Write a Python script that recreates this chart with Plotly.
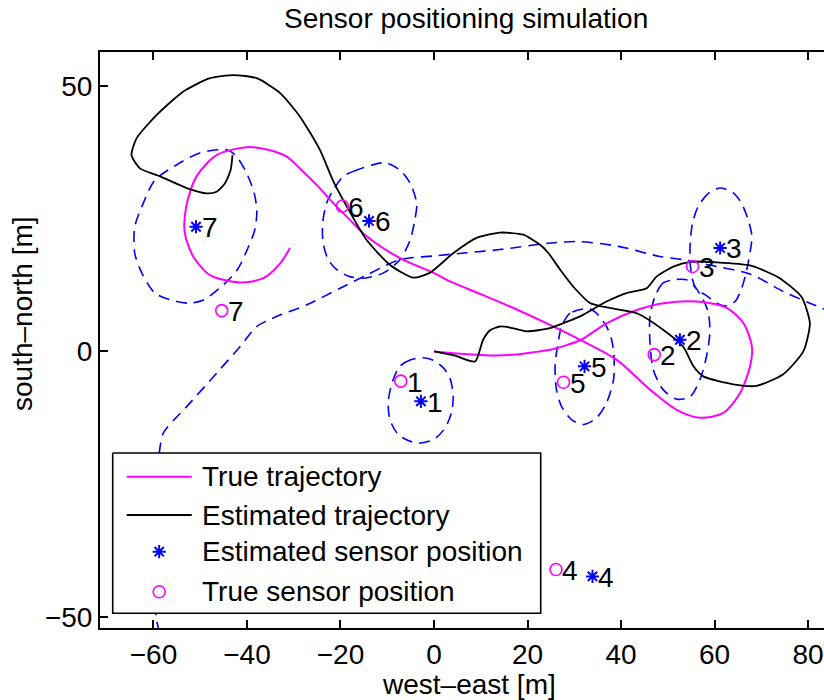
import plotly.graph_objects as go

# ---- trajectories (west-east, south-north in metres) ----
true_x = [0, 5, 12, 17.7, 21, 24.8, 28, 31.5, 36.9, 43.4, 49.1, 56.2, 62.6, 66.2, 68, 67.6,
          65.5, 61.9, 56.9, 51.9, 46.2, 39.1, 31.9, 24.8, 17.7, 10, 3.4, -0.1, -7.3, -14.4,
          -18, -21.5, -25.1, -28.7, -31.5, -35.5, -40.1, -46.5, -50.8, -53, -53.3, -51.5,
          -47.9, -41.5, -36.5, -32.9, -30.8]
true_y = [0, -0.4, -0.75, -0.6, -0.2, 0.3, 1.1, 2.2, 5.3, 7.8, 9.1, 9.4, 8.2, 5.3, 0.9, -2.8,
          -7.8, -11.6, -12.5, -11, -7.2, -1.6, 1.9, 5.0, 7.9, 10.8, 13.2, 14.8, 17.6, 21.7,
          24.8, 27.9, 31.4, 34.5, 36.7, 38, 38.5, 37, 33, 27.3, 22.3, 17.9,
          14.4, 13, 13.8, 16.6, 19.5]

est_x = [0, 4.5, 8.8, 10.5, 12, 14.1, 16.3, 19.8, 24.8, 31.9, 36.9, 41.2, 45.5, 47.6, 51.2,
         54.8, 60.5, 67.6, 73.6, 78.6, 80.4, 79, 74.7, 69, 64, 57.6, 55.5, 53.3, 49, 43.4,
         37.6, 33.4, 30, 27, 24.5, 22.7, 19.1, 14.1, 9.1, 4.1, -0.9, -4.4, -9.4, -14.4,
         -18, -21.5, -24.4, -28.7, -32.9, -37.9, -42.9, -47.9, -53.6, -59.3, -63.6, -64.7,
         -62.9, -58.6, -52.9, -48.6, -46.5, -44.7, -43.5, -43.1]
est_y = [0, -0.8, -1.9, 2.2, 4.0, 4.7, 4.5, 3.8, 4.4, 6.9, 9.4, 11, 11.9, 14.1, 16,
         16.9, 16.8, 16.2, 14.0, 10.3, 5.3, 0.0, -4.3, -6.5, -6.2, -4.7, -2.8, 0.9, 4.1, 7.2,
         8.2, 9.1, 12, 15.4, 18.5, 20.1, 22, 22.4, 21.4, 18.5, 14.8, 13.9, 16.3, 21,
         26.3, 32, 38, 44.3, 48.7, 51.5, 52.1, 51.5, 49, 44.6, 40.2, 37,
         34.5, 33, 30.8, 29.8, 30.1, 31.7, 34.2, 37]

# ---- sensors ----
sensor_ids = ["1", "2", "3", "4", "5", "6", "7"]
sensor_true_x = [-7.1, 47.1, 55.3, 26.1, 27.7, -19.6, -45.4]
sensor_true_y = [-5.6, -0.6, 16.0, -41.1, -5.8, 27.4, 7.7]
sensor_est_x = [-2.8, 52.6, 61.2, 33.9, 32.2, -13.9, -50.9]
sensor_est_y = [-9.4, 2.2, 19.5, -42.4, -2.8, 24.6, 23.5]

# ---- uncertainty contours of the sensor estimates ----
contour_1_x = [-2.3, -5.1, -7.3, -9, -9.8, -9.4, -7.6, -3.7, -0.1, 2.4, 3.8, 4.1, 3.4, 2, -0.1, -2.3]
contour_1_y = [-1.2, -1.6, -2.8, -6, -9.7, -12.9, -15.7, -17.3, -16.6, -14.4, -11.3, -8.2, -5, -3.1, -1.7, -1.2]
contour_2_x = [51.2, 49, 47.3, 46.2, 46.2, 46.9, 49, 51.9, 54.8, 56.9, 58.3, 59, 58.7, 57.6, 55.8, 54, 51.2]
contour_2_y = [13.5, 12.9, 10.4, 6.6, 1.6, -3.4, -7.2, -9, -8.5, -5.3, -0.9, 3.5, 7.2, 9.7, 12.2, 13.5, 13.5]
contour_3_x = [61.2, 58.7, 56.5, 55.3, 54.8, 54.8, 55.3, 56.2, 58, 60.5, 62.6, 64.4, 65.8, 66.9,
               67.7, 68, 67.2, 65.8, 64, 61.2]
contour_3_y = [30.8, 29.8, 27.3, 24.2, 20.4, 16.6, 13.5, 11.6, 10.7, 9.1, 8.6, 9.4, 11.9, 15.4,
               19.2, 21.7, 24.8, 27.9, 29.9, 30.8]
contour_4_x = [-58.7, -59.3, -59.8, -60.2, -60, -58.9, -57.9, -55.5, -52.9, -46.5, -41.5, -37.9,
               -34.4, -27.2, -20.1, -14.4, -7.3, 0, 7, 14.1, 24.5, 31.2, 39.5, 48.3, 53.3, 60.5,
               67.6, 74.7, 80.4, 85]
contour_4_y = [-53, -50.8, -47, -40, -30, -20, -15.4, -12.8, -10.4, -4.1, 0.9, 4.7,
               6.3, 8.8, 11.9, 14.4, 17.3, 18, 18.6, 19.2, 20.4, 20.7, 19.8, 17.9, 17.3, 16,
               14.6, 11.3, 9.1, 7.4]
contour_5_x = [31.9, 29.1, 27.3, 26.4, 25.9, 26.2, 27.3, 29.5, 31.9, 34.8, 36.9, 38.4, 38.5, 38,
               36.9, 35.1, 33.4, 31.9]
contour_5_y = [8, 7.2, 4.7, 0.9, -2.8, -7.2, -10.4, -12.9, -13.8, -12.5, -9.7, -5.3, -0.9, 2.2,
               4.7, 6.9, 8, 8]
contour_6_x = [-11.6, -16.5, -19.4, -21.5, -23, -23.8, -23.7, -22.6, -20.8, -18, -15.1, -10.8,
               -7.3, -5.1, -4.1, -3.7, -5.1, -7.3, -10.1, -11.6]
contour_6_y = [35.5, 34.2, 33, 30.5, 27.9, 24.2, 20.4, 17.3, 15.4, 14.1, 13.8, 14.8,
               17.3, 21, 24.8, 27.9, 31.7, 34.2, 35.5, 35.5]
contour_7_x = [-44.3, -50.1, -55, -59.7, -62.2, -64, -64, -62.5, -59.7, -55, -52.2, -49.3, -45,
               -42, -39.8, -38.3, -37.9, -38.5, -40.4, -42.5, -44.3]
contour_7_y = [38, 37.4, 35.2, 32.3, 27.9, 23.5, 18.5, 14.8, 11, 9.4, 9.1, 9.7, 12.6,
               15.5, 19.5, 23, 26.5, 30, 34.2, 37, 38]
contours = [(contour_1_x, contour_1_y), (contour_2_x, contour_2_y), (contour_3_x, contour_3_y),
            (contour_4_x, contour_4_y), (contour_5_x, contour_5_y), (contour_6_x, contour_6_y),
            (contour_7_x, contour_7_y)]

# ---- text ----
title_text = "Sensor positioning simulation"
x_title = "west–east [m]"
y_title = "south–north [m]"
legend_labels = ["True trajectory", "Estimated trajectory",
                 "Estimated sensor position", "True sensor position"]
x_ticks = [-60, -40, -20, 0, 20, 40, 60, 80]
y_ticks = [-50, 0, 50]

# ---- styling ----
FONT = "Liberation Sans, Arial, Helvetica, sans-serif"
MAGENTA = "#ff00ff"
BLUE = "#0000ff"
W, H = 824, 700
L, R, T, B = 100, 824, 52, 628          # plot area in page pixels
X_RANGE = [-71.44, 83.42]
Y_RANGE = [-52.13, 56.44]


def px_x(p):
    return (p - L) / (R - L)


def px_y(p):
    return (B - p) / (B - T)


fig = go.Figure()

for cx, cy in contours:
    fig.add_trace(go.Scatter(x=cx, y=cy, mode="lines", showlegend=False, hoverinfo="skip",
                             line=dict(color=BLUE, width=1.6, dash="11px,7px",
                                       shape="spline", smoothing=0.8)))

fig.add_trace(go.Scatter(x=true_x, y=true_y, mode="lines", showlegend=False,
                         line=dict(color=MAGENTA, width=2, shape="spline", smoothing=0.8)))
fig.add_trace(go.Scatter(x=est_x, y=est_y, mode="lines", showlegend=False,
                         line=dict(color="black", width=1.8, shape="spline", smoothing=0.6)))

fig.add_trace(go.Scatter(x=sensor_est_x, y=sensor_est_y, mode="markers", showlegend=False,
                         marker=dict(symbol="asterisk-open", size=11, color=BLUE,
                                     line=dict(color=BLUE, width=2))))
fig.add_trace(go.Scatter(x=sensor_true_x, y=sensor_true_y, mode="markers", showlegend=False,
                         marker=dict(symbol="circle-open", size=12, color=MAGENTA,
                                     line=dict(color=MAGENTA, width=1.6))))

annotations = []
for xs, ys in ((sensor_true_x, sensor_true_y), (sensor_est_x, sensor_est_y)):
    for sx, sy, sid in zip(xs, ys, sensor_ids):
        annotations.append(dict(x=sx, y=sy, xref="x", yref="y", text=sid, showarrow=False,
                                xanchor="left", yanchor="middle", xshift=4, yshift=-1,
                                font=dict(family=FONT, size=28, color="black")))

# ---- legend, drawn on an overlay axis measured in page pixels ----
LEG_BOX = (112.7, 540.7, 453, 613.3)
LEG_ROWS = [476.7, 515, 551.7, 591.7]
LEG_LINE = (126.7, 191.7)
LEG_TEXT_X = 200
bx0, bx1, by0, by1 = LEG_BOX
fig.add_trace(go.Scatter(x=[bx0, bx1, bx1, bx0, bx0], y=[by0, by0, by1, by1, by0],
                         xaxis="x2", yaxis="y2", mode="lines", fill="toself",
                         fillcolor="white", line=dict(color="black", width=1.6),
                         showlegend=False, hoverinfo="skip"))
fig.add_trace(go.Scatter(x=list(LEG_LINE), y=[LEG_ROWS[0]] * 2, xaxis="x2", yaxis="y2",
                         mode="lines", line=dict(color=MAGENTA, width=2),
                         showlegend=False, hoverinfo="skip"))
fig.add_trace(go.Scatter(x=list(LEG_LINE), y=[LEG_ROWS[1]] * 2, xaxis="x2", yaxis="y2",
                         mode="lines", line=dict(color="black", width=1.8),
                         showlegend=False, hoverinfo="skip"))
mid = sum(LEG_LINE) / 2
fig.add_trace(go.Scatter(x=[mid], y=[LEG_ROWS[2]], xaxis="x2", yaxis="y2", mode="markers",
                         marker=dict(symbol="asterisk-open", size=11, color=BLUE,
                                     line=dict(color=BLUE, width=2)),
                         showlegend=False, hoverinfo="skip"))
fig.add_trace(go.Scatter(x=[mid], y=[LEG_ROWS[3]], xaxis="x2", yaxis="y2", mode="markers",
                         marker=dict(symbol="circle-open", size=12, color=MAGENTA,
                                     line=dict(color=MAGENTA, width=1.6)),
                         showlegend=False, hoverinfo="skip"))
for label, row in zip(legend_labels, LEG_ROWS):
    annotations.append(dict(x=px_x(LEG_TEXT_X), y=px_y(row), xref="paper", yref="paper",
                            text=label, showarrow=False, xanchor="left", yanchor="middle",
                            font=dict(family=FONT, size=28, color="black")))

# ---- titles ----
annotations.append(dict(x=px_x(466), y=px_y(18), xref="paper", yref="paper", text=title_text,
                        showarrow=False, xanchor="center", yanchor="middle",
                        font=dict(family=FONT, size=28, color="black")))
annotations.append(dict(x=px_x(469), y=px_y(684), xref="paper", yref="paper", text=x_title,
                        showarrow=False, xanchor="center", yanchor="middle",
                        font=dict(family=FONT, size=28, color="black")))
annotations.append(dict(x=px_x(22), y=px_y(314), xref="paper", yref="paper", text=y_title,
                        showarrow=False, xanchor="center", yanchor="middle", textangle=-90,
                        font=dict(family=FONT, size=28, color="black")))

fig.update_layout(
    width=W, height=H,
    margin=dict(l=L, r=W - R, t=T, b=H - B, pad=0),
    paper_bgcolor="white", plot_bgcolor="white",
    showlegend=False,
    font=dict(family=FONT, size=28, color="black"),
    annotations=annotations,
    xaxis=dict(range=X_RANGE, tickvals=x_ticks, ticks="inside", ticklen=8, tickwidth=1.6,
               tickcolor="black", showline=True, linecolor="black", linewidth=2,
               mirror="ticks", showgrid=False, zeroline=False,
               tickfont=dict(family=FONT, size=28, color="black")),
    yaxis=dict(range=Y_RANGE, tickvals=y_ticks, ticks="inside", ticklen=8, tickwidth=1.6,
               tickcolor="black", showline=True, linecolor="black", linewidth=2,
               mirror=False, showgrid=False, zeroline=False,
               tickfont=dict(family=FONT, size=28, color="black")),
    xaxis2=dict(overlaying="x", range=[L, R], visible=False, fixedrange=True),
    yaxis2=dict(overlaying="y", range=[B, T], visible=False, fixedrange=True),
)

fig.write_html("out.html")
